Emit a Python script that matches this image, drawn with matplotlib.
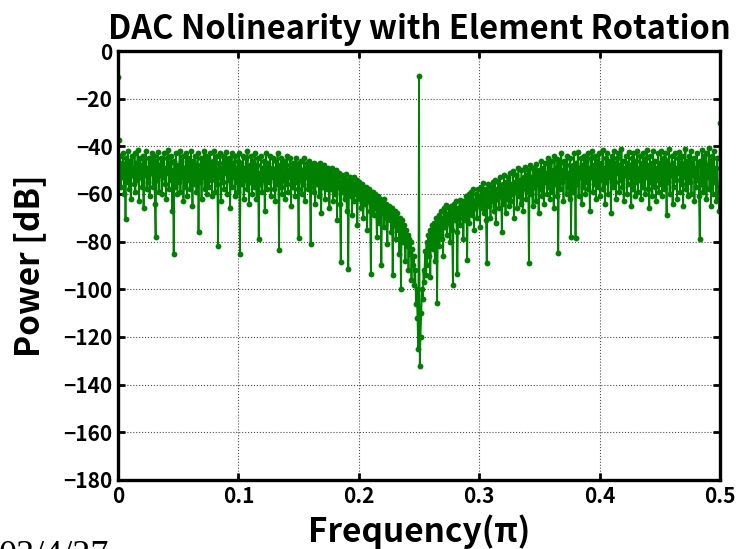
import numpy as np
import matplotlib
matplotlib.use('Agg')
import matplotlib.pyplot as plt

plt.rcParams['font.family'] = ['Noto Sans CJK JP', 'DejaVu Sans']

# power spectrum, one value every 0.000625 (units of pi)
power_db = [
    -11, -37.5, -50, -44, -57, -47, -53, -43, -60, -48, -70.5, -45, -55, -42, -51, -58, -46, -62, -44, -52,
    -49, -56, -43, -59, -47, -54, -41.5, -50, -63, -45, -53, -48, -57, -44, -66, -46, -52, -42, -58, -49,
    -55, -45, -61, -47, -51, -43, -57, -50, -44, -64, -78, -46, -54, -42.5, -59, -48, -52, -45, -60, -47,
    -53, -43, -56, -49, -62, -45, -51, -41.5, -58, -47, -54, -44, -67, -50, -85, -46, -57, -43, -52, -60,
    -48, -55, -42, -59, -46, -53, -44, -63, -49, -57, -43, -51, -61, -45, -54, -47, -58, -42, -50, -65,
    -46, -56, -44, -52, -59, -48, -43, -76, -50, -55, -45, -62, -47, -53, -42, -58, -49, -44, -60, -51,
    -45, -57, -43, -54, -48, -61, -46, -52, -42, -59, -50, -44, -56, -82, -47, -53, -43, -63, -49, -55,
    -44, -58, -46, -51, -42.5, -60, -48, -54, -45, -66, -50, -43, -57, -47, -53, -44, -61, -49, -55, -46,
    -59, -43, -85, -52, -47, -56, -44, -62, -49, -54, -45, -58, -42, -51, -64, -48, -55, -44, -60, -50,
    -46, -57, -43, -53, -62, -48, -45, -79, -51, -56, -44, -59, -49, -54, -46, -67, -50, -43, -58, -52,
    -47, -55, -44, -61, -49, -53, -45, -58, -50, -63, -46, -56, -43, -52, -83.5, -48, -57, -45, -60, -51,
    -46, -54, -62, -48, -56, -44, -59, -50, -53, -45, -65, -49, -57, -47, -52, -61, -45, -55, -48, -58,
    -78.5, -47, -54, -46, -60, -50, -56, -45, -63, -49, -53, -47, -58, -51, -46, -57, -81, -48, -55, -50,
    -59, -47, -64, -52, -48, -56, -50, -61, -47, -54, -68, -49, -57, -51, -48, -62, -53, -50, -58, -49,
    -55, -66, -50, -58, -52, -49, -63, -54, -51, -60, -50, -71, -53, -57, -51, -64, -88.6, -55, -52, -59,
    -53, -62, -56, -51.5, -67, -54, -91.5, -58, -53, -61, -55, -69, -57, -53, -63, -56, -60, -54, -73, -58,
    -55, -62, -57, -66, -56, -60, -70, -58, -64, -57, -61, -75, -59, -63, -58, -67, -93.6, -61, -65, -59,
    -69, -62, -60, -66, -78, -61, -64, -72, -62, -67, -90, -63, -68, -62, -74, -65, -64, -70, -81, -66,
    -65, -71, -67, -76, -66, -94, -69, -73, -67, -79, -70, -68, -75, -72, -85, -70, -100, -74, -71, -80,
    -73, -78, -88, -75, -82, -77, -92, -79, -85, -80, -96, -83, -90, -86, -98, -92, -106, -100, -112, -125,
    -10.5, -132, -120, -110, -100, -104, -92, -97, -84, -94, -80, -90, -77, -86, -75, -95, -79, -73, -83, -76,
    -72, -88, -74, -70, -105.7, -78, -69, -82, -71, -67, -79, -70, -86, -66, -74, -68, -64.6, -77, -69, -72,
    -66, -80, -68, -65, -75, -98, -67, -64, -71, -63, -76, -93.6, -66, -70, -62.5, -73, -65, -68, -63, -79,
    -64, -71, -61, -67, -87.7, -63, -60, -72, -65, -59, -69, -62, -58, -75, -63, -66, -60, -70, -58, -64,
    -61, -74, -57, -66, -59, -55.5, -68, -62, -58, -71, -89, -60, -56, -65, -59, -70, -57, -63, -55, -67,
    -60, -54, -72, -58, -62, -55, -66, -53, -61, -57, -76, -56, -64, -52, -59, -68, -55, -62, -53, -65,
    -58, -51, -63, -56, -60, -50.5, -70, -55, -59, -52, -66, -57, -49, -61, -54, -64, -50, -58, -67, -53,
    -56, -48.6, -62, -52, -59, -50, -89, -55, -48, -60, -53, -65, -49, -57, -51, -63, -47.5, -56, -52, -68,
    -50, -58, -46, -61, -53, -49, -64, -47, -55, -51, -60, -45, -57, -48, -62, -52, -46, -59, -50, -66,
    -44, -56, -49, -61, -45.5, -84.7, -52, -47, -58, -43, -55, -50, -63, -46, -53, -48, -60, -44, -57, -51,
    -62, -45, -78, -54, -48, -59, -43, -52, -78.5, -47, -56, -42.5, -61, -49, -53, -45, -64, -48, -57, -44,
    -52, -60, -46, -55, -43, -58, -49, -67, -45, -53, -42, -59, -48, -56, -44, -62, -50, -46, -57, -43,
    -54, -61, -47, -52, -41.5, -58, -49, -64, -45, -55, -43, -60, -48, -53, -46, -68, -50, -44, -57, -42,
    -55, -47, -62, -45, -51, -43, -59, -48, -54, -41, -57, -46, -63, -49, -52, -44, -60, -47, -56, -42.5,
    -53, -48, -65, -45, -58, -43, -51, -61, -46, -55, -42, -59, -49, -54, -44, -62, -47, -57, -43, -50,
    -60, -45, -53, -41.5, -58, -48, -66, -44, -55, -47, -61, -42, -52, -57, -46, -63, -49, -54, -43, -59,
    -47, -56, -42, -61, -50, -45, -58, -43, -53, -69, -46, -55, -41, -60, -48, -52, -44, -64, -47, -57,
    -43, -54, -49, -62, -45, -51, -42.5, -59, -47, -56, -44, -65, -48, -53, -41, -58, -46, -61, -50, -44,
    -55, -42, -60, -47, -52, -45, -63, -49, -57, -43, -54, -48, -61, -79, -46, -56, -41.5, -59, -50, -44,
    -57, -43, -62, -48, -53, -40.5, -58, -46, -65, -44, -52, -60, -42, -55, -49, -63, -45, -62, -57, -67,
    -30,
]
assert len(power_db) == 801
freq = np.linspace(0, 0.5, len(power_db))

xticks = [0, 0.1, 0.2, 0.3, 0.4, 0.5]
xtick_labels = ['0', '0.1', '0.2', '0.3', '0.4', '0.5']
yticks = [0, -20, -40, -60, -80, -100, -120, -140, -160, -180]

fig = plt.figure(figsize=(7.36, 5.49), dpi=100)
ax = fig.add_axes([0.1603, 0.1257, 0.818, 0.7814])

ax.plot(freq, power_db, '-o', color='#008000', lw=1.3, ms=4.2, mew=0)

ax.set_xlim(0, 0.5)
ax.set_ylim(-180, 0)
ax.set_xticks(xticks)
ax.set_xticklabels(xtick_labels)
ax.set_yticks(yticks)
ax.grid(True, linestyle=':', color='0.3', lw=0.8)
ax.tick_params(direction='in', length=5, width=2, top=True, right=True,
               labelsize=15, pad=4)
for lab in ax.get_xticklabels() + ax.get_yticklabels():
    lab.set_fontweight('bold')
for sp in ax.spines.values():
    sp.set_linewidth(2.4)

ax.set_title('DAC Nolinearity with Element Rotation', fontsize=23.5,
             fontweight='bold', pad=9)
ax.set_xlabel('Frequency(π)', fontsize=24, fontweight='bold', labelpad=6)
ax.set_ylabel('Power [dB]', fontsize=24, fontweight='bold', labelpad=12)

fig.text(-0.002, 0.016, '03/4/27', fontsize=26, family='Liberation Serif',
         va='top', ha='left')

fig.savefig('out.png', dpi=100)
